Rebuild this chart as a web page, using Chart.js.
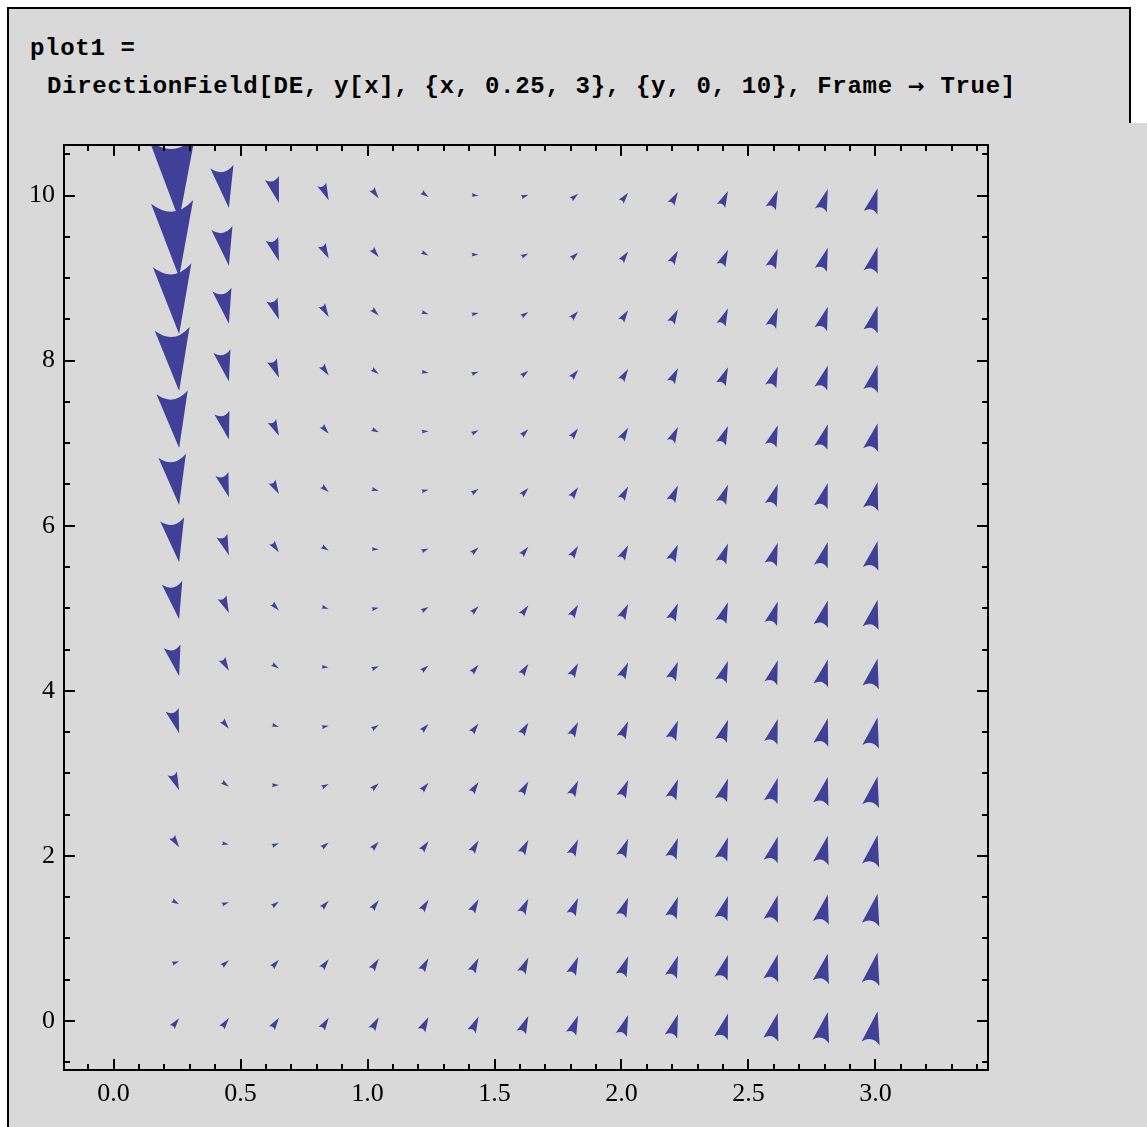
<!DOCTYPE html>
<html>
<head>
<meta charset="utf-8">
<script src="https://cdn.jsdelivr.net/npm/chart.js@4.4.0/dist/chart.umd.min.js"></script>
<style>
  html, body { margin: 0; padding: 0; background: #fff; }
  body { width: 1147px; height: 1127px; position: relative; overflow: hidden; }
  .cell { position: absolute; left: 7px; top: 7px; width: 1120px; height: 114px; background: #d9d9d9; border: 2px solid #000; border-bottom: none; }
  .out { position: absolute; left: 7px; top: 123px; right: 0; bottom: 0; background: #d9d9d9; border-left: 2px solid #000; }
  .code { position: absolute; font-family: "Liberation Mono", "DejaVu Sans Mono", monospace; font-weight: bold; font-size: 24px; line-height: 24px; letter-spacing: 0.7px; color: #000; white-space: pre; }
  .code .arr { font-family: "DejaVu Sans", sans-serif; font-size: 20px; }
  #chart { position: absolute; left: 0; top: 0; }
</style>
</head>
<body>
<div class="cell"></div>
<div class="out"></div>
<div class="code" style="left:30px; top:37px;">plot1 =</div>
<div class="code" style="left:47px; top:74px;">DirectionField[DE, y[x], {x, 0.25, 3}, {y, 0, 10}, Frame <span class="arr">→</span> True]</div>
<canvas id="chart" width="1147" height="1127"></canvas>
<script>
// grid of sample points
const xValues = [0.25, 0.446, 0.643, 0.839, 1.036, 1.232, 1.429, 1.625, 1.821, 2.018, 2.214, 2.411, 2.607, 2.804, 3.0];
const yValues = [0, 0.714, 1.429, 2.143, 2.857, 3.571, 4.286, 5, 5.714, 6.429, 7.143, 7.857, 8.571, 9.286, 10];

// slope dy/dx read at each point, one list per x column (bottom to top)
const slopeColumns = [
  [4.0, 1.1, -1.7, -4.6, -7.4, -10.3, -13.1, -16.0, -18.9, -21.7, -24.6, -27.4, -30.3, -33.1, -36.0],
  [4.2, 2.6, 1.0, -0.6, -2.2, -3.8, -5.4, -7.0, -8.6, -10.2, -11.8, -13.4, -15.0, -16.6, -18.2],
  [4.6, 3.4, 2.3, 1.2, 0.1, -1.0, -2.1, -3.2, -4.3, -5.5, -6.6, -7.7, -8.8, -9.9, -11.0],
  [4.9, 4.1, 3.2, 2.4, 1.5, 0.7, -0.2, -1.0, -1.9, -2.7, -3.6, -4.4, -5.3, -6.1, -7.0],
  [5.4, 4.7, 4.0, 3.3, 2.7, 2.0, 1.3, 0.6, -0.1, -0.8, -1.5, -2.2, -2.9, -3.6, -4.2],
  [6.0, 5.4, 4.8, 4.2, 3.6, 3.1, 2.5, 1.9, 1.3, 0.7, 0.2, -0.4, -1.0, -1.6, -2.2],
  [6.6, 6.1, 5.6, 5.1, 4.6, 4.1, 3.6, 3.1, 2.6, 2.1, 1.6, 1.1, 0.6, 0.1, -0.4],
  [7.3, 6.8, 6.4, 5.9, 5.5, 5.1, 4.6, 4.2, 3.7, 3.3, 2.9, 2.4, 2.0, 1.5, 1.1],
  [8.0, 7.6, 7.2, 6.8, 6.5, 6.1, 5.7, 5.3, 4.9, 4.5, 4.1, 3.7, 3.3, 2.9, 2.5],
  [8.9, 8.5, 8.2, 7.8, 7.4, 7.1, 6.7, 6.4, 6.0, 5.7, 5.3, 5.0, 4.6, 4.3, 3.9],
  [9.8, 9.4, 9.1, 8.8, 8.5, 8.2, 7.8, 7.5, 7.2, 6.9, 6.5, 6.2, 5.9, 5.6, 5.3],
  [10.8, 10.5, 10.2, 9.9, 9.6, 9.3, 9.0, 8.7, 8.4, 8.1, 7.8, 7.5, 7.2, 6.9, 6.6],
  [11.8, 11.6, 11.3, 11.0, 10.7, 10.5, 10.2, 9.9, 9.6, 9.4, 9.1, 8.8, 8.5, 8.3, 8.0],
  [13.0, 12.7, 12.5, 12.2, 12.0, 11.7, 11.4, 11.2, 10.9, 10.7, 10.4, 10.2, 9.9, 9.7, 9.4],
  [14.2, 13.9, 13.7, 13.5, 13.2, 13.0, 12.8, 12.5, 12.3, 12.0, 11.8, 11.6, 11.3, 11.1, 10.8]
];

const xTicks = [0, 0.5, 1, 1.5, 2, 2.5, 3];
const yTicks = [0, 2, 4, 6, 8, 10];

const arrowColor = '#404099';
const STEP = 0.0275; // length of the (1, slope) vector in x units

const points = [];
xValues.forEach((xv, i) => {
  yValues.forEach((yv, j) => {
    points.push({ x: xv, y: yv, slope: slopeColumns[i][j] });
  });
});

// draw every point as a Mathematica style arrowhead
const arrowPlugin = {
  id: 'arrowField',
  afterDatasetsDraw(chart) {
    const { ctx, chartArea, scales } = chart;
    const sx = scales.x, sy = scales.y;
    ctx.save();
    ctx.beginPath();
    ctx.rect(chartArea.left, chartArea.top, chartArea.right - chartArea.left, chartArea.bottom - chartArea.top);
    ctx.clip();
    ctx.fillStyle = arrowColor;
    chart.data.datasets[0].data.forEach(pt => {
      const px = sx.getPixelForValue(pt.x);
      const py = sy.getPixelForValue(pt.y);
      const vx = sx.getPixelForValue(pt.x + STEP) - px;
      const vy = sy.getPixelForValue(pt.y + STEP * pt.slope) - py;
      const len = Math.hypot(vx, vy);
      const nx = -vy / len, ny = vx / len;
      const w = 0.28 * len;
      const tx = px + 0.3 * vx, ty = py + 0.3 * vy;
      const bx = px - 0.7 * vx, by = py - 0.7 * vy;
      ctx.beginPath();
      ctx.moveTo(tx, ty);
      ctx.lineTo(bx + nx * w, by + ny * w);
      ctx.quadraticCurveTo(bx + 0.26 * vx, by + 0.26 * vy, bx - nx * w, by - ny * w);
      ctx.closePath();
      ctx.fill();
    });
    ctx.restore();
  }
};

// frame with inward ticks on all four sides
const framePlugin = {
  id: 'frameTicks',
  afterDraw(chart) {
    const { ctx, chartArea: a, scales } = chart;
    const sx = scales.x, sy = scales.y;
    ctx.save();
    ctx.strokeStyle = '#000';
    ctx.lineWidth = 2;
    ctx.beginPath();
    for (let k = -1; k <= 34; k++) {
      const v = k / 10;
      if (v < sx.min || v > sx.max) continue;
      const p = Math.round(sx.getPixelForValue(v));
      const len = (k % 5 === 0) ? 11 : 6;
      ctx.moveTo(p, a.bottom); ctx.lineTo(p, a.bottom - len);
      ctx.moveTo(p, a.top); ctx.lineTo(p, a.top + len);
    }
    for (let k = -1; k <= 21; k++) {
      const v = k / 2;
      if (v < sy.min || v > sy.max) continue;
      const p = Math.round(sy.getPixelForValue(v));
      const len = (k % 4 === 0) ? 11 : 6;
      ctx.moveTo(a.left, p); ctx.lineTo(a.left + len, p);
      ctx.moveTo(a.right, p); ctx.lineTo(a.right - len, p);
    }
    ctx.stroke();
    ctx.strokeRect(a.left, a.top, a.right - a.left, a.bottom - a.top);
    ctx.restore();
  }
};

const tickFont = { family: '"Liberation Serif", "Times New Roman", serif', size: 26 };

new Chart(document.getElementById('chart').getContext('2d'), {
  type: 'scatter',
  data: {
    datasets: [{ data: points, pointRadius: 0, showLine: false }]
  },
  options: {
    responsive: false,
    animation: false,
    events: [],
    layout: { padding: { left: 0, top: 145, right: 159, bottom: 0 } },
    plugins: { legend: { display: false }, tooltip: { enabled: false } },
    scales: {
      x: {
        type: 'linear',
        min: -0.195,
        max: 3.443,
        grid: { display: false, drawTicks: false },
        border: { display: false },
        afterBuildTicks: s => { s.ticks = xTicks.map(v => ({ value: v })); },
        afterFit: s => { s.height = 57; },
        ticks: { font: tickFont, color: '#000', padding: 9, maxRotation: 0, callback: v => v.toFixed(1) }
      },
      y: {
        type: 'linear',
        min: -0.594,
        max: 10.612,
        grid: { display: false, drawTicks: false },
        border: { display: false },
        afterBuildTicks: s => { s.ticks = yTicks.map(v => ({ value: v })); },
        afterFit: s => { s.width = 64; },
        ticks: { font: tickFont, color: '#000', padding: 9, callback: v => String(v) }
      }
    }
  },
  plugins: [arrowPlugin, framePlugin]
});
</script>
</body>
</html>
